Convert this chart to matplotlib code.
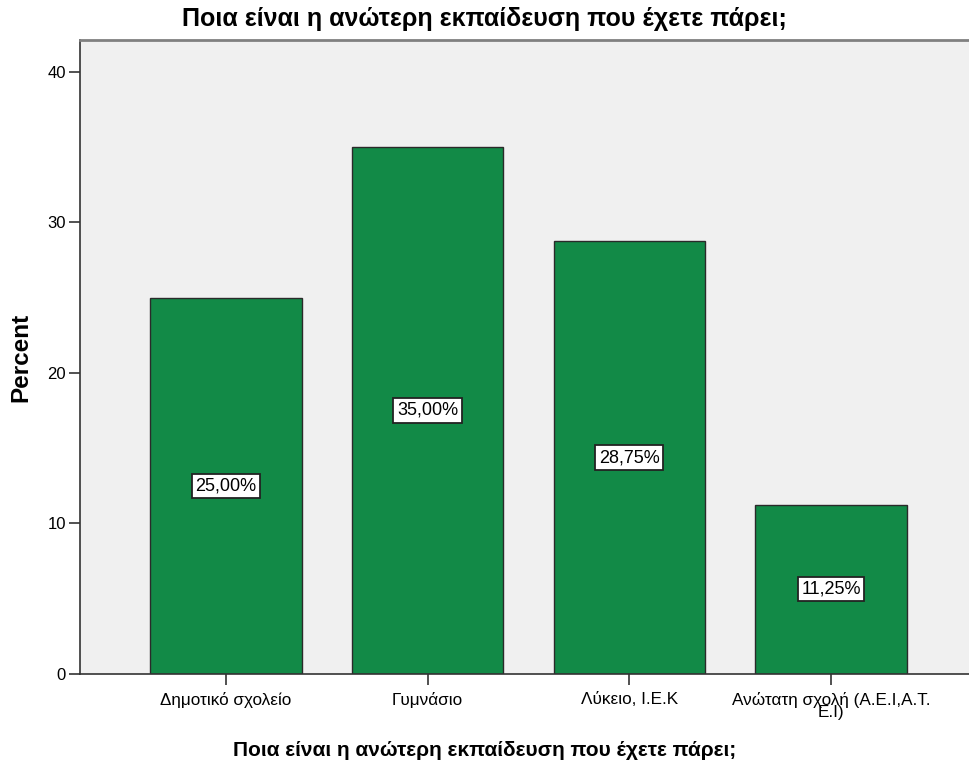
import matplotlib
matplotlib.use("Agg")
import matplotlib.pyplot as plt

plt.rcParams['font.family'] = ['Liberation Sans', 'DejaVu Sans']

categories = ["Δημοτικό σχολείο", "Γυμνάσιο", "Λύκειο, Ι.Ε.Κ", "Ανώτατη σχολή (Α.Ε.Ι,Α.Τ.\nΕ.Ι)"]
percents = [25.00, 35.00, 28.75, 11.25]
yticks = [0, 10, 20, 30, 40]
title = "Ποια είναι η ανώτερη εκπαίδευση που έχετε πάρει;"

W, H = 969, 767
fig = plt.figure(figsize=(W / 100, H / 100), dpi=100)
left, right, top, bottom = 80, 977, 40, 674
ax = fig.add_axes([left / W, (H - bottom) / H, (right - left) / W, (bottom - top) / H])
ax.set_facecolor("#f0f0f0")

x = list(range(len(categories)))
ax.bar(x, percents, width=0.75, color="#128a47", edgecolor="#2a2a2a", linewidth=1.0, zorder=2)

for xi, v in zip(x, percents):
    ax.text(xi, v / 2, f"{v:.2f}".replace(".", ",") + "%", ha="center", va="center",
            fontsize=13, color="black", zorder=3,
            bbox=dict(boxstyle="square,pad=0.2", facecolor="white", edgecolor="#222222", linewidth=1.3))

ax.set_xlim(-0.724, 3.724)
ax.set_ylim(0, 42.1)
ax.set_yticks(yticks)
ax.set_xticks(x)
ax.set_xticklabels(categories, fontsize=12.3, linespacing=0.72)
ax.tick_params(axis="y", labelsize=12, length=8, width=1.2, color="#333333", pad=2)
ax.tick_params(axis="x", length=8, width=1.2, color="#333333", pad=5)

for side in ("left", "bottom"):
    ax.spines[side].set_color("#333333")
    ax.spines[side].set_linewidth(1.2)
ax.spines["top"].set_color("#808080")
ax.spines["top"].set_linewidth(2.0)
ax.spines["right"].set_visible(False)

fig.text(0.5, 1 - 19 / H, title, ha="center", va="center", fontsize=18, fontweight="bold")
fig.text(0.5, 1 - 750 / H, title, ha="center", va="center", fontsize=15, fontweight="bold")
fig.text(21 / W, 1 - 357 / H, "Percent", ha="center", va="center", rotation=90,
         fontsize=17.5, fontweight="bold")

fig.savefig("out.png", dpi=100)
